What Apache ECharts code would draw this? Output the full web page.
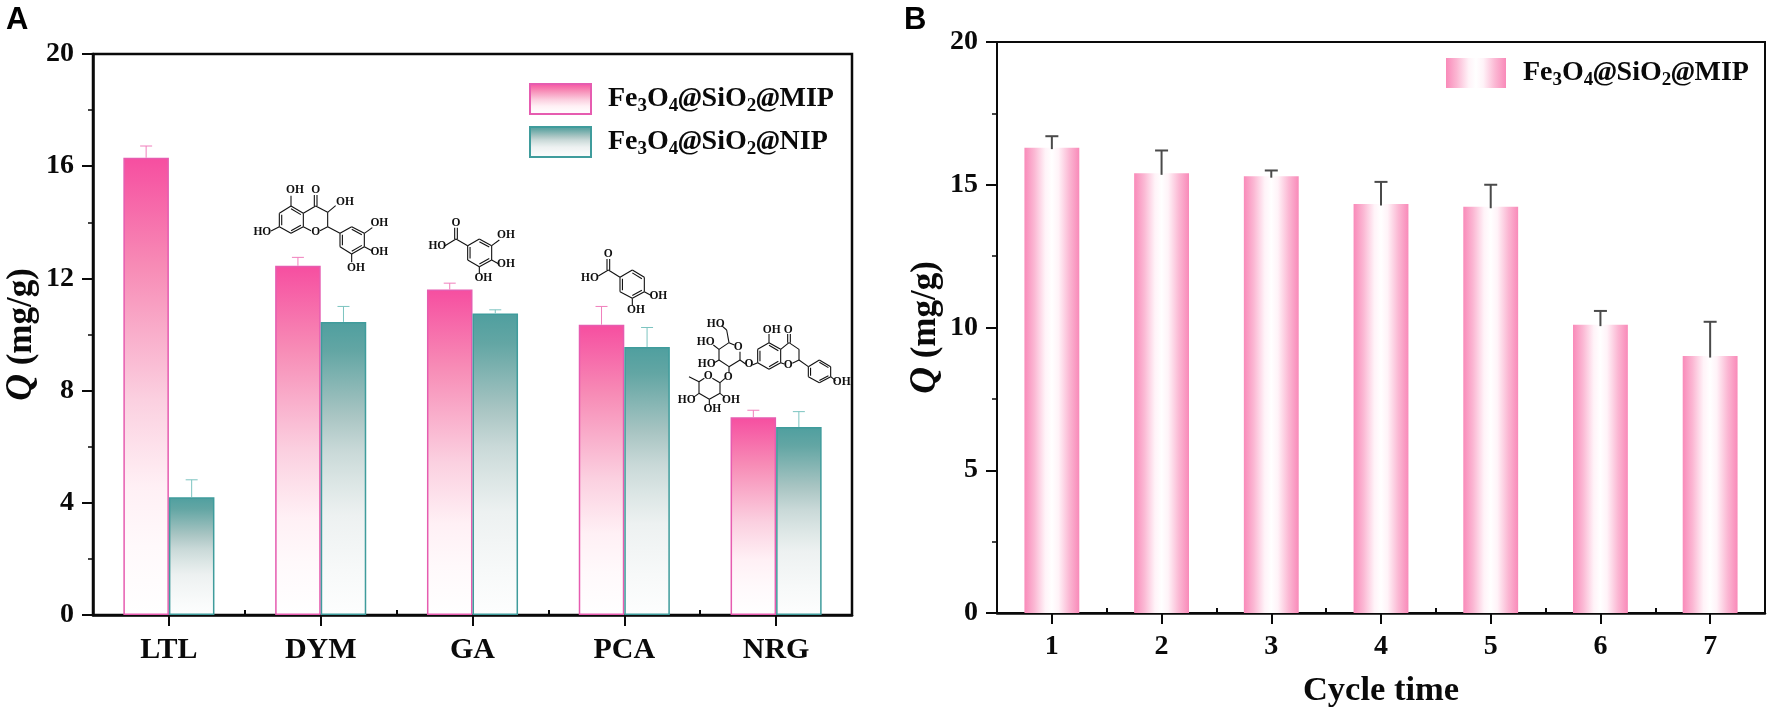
<!DOCTYPE html>
<html>
<head>
<meta charset="utf-8">
<style>html,body{margin:0;padding:0;background:#fff}#c{width:1772px;height:712px}</style>
<script src="https://cdn.jsdelivr.net/npm/echarts@6/dist/echarts.min.js"></script>
</head>
<body>
<div id="c"></div>
<script>
// ---------- data ----------
const adsorbates = ['LTL', 'DYM', 'GA', 'PCA', 'NRG'];
const mipValues = [16.3, 12.45, 11.6, 10.35, 7.05];
const mipErrTop = [16.72, 12.75, 11.83, 11.0, 7.3];
const nipValues = [4.2, 10.45, 10.75, 9.55, 6.7];
const nipErrTop = [4.82, 11.0, 10.88, 10.25, 7.25];
const cycles = ['1', '2', '3', '4', '5', '6', '7'];
const cycleValues = [16.3, 15.4, 15.3, 14.33, 14.23, 10.1, 9.0];
const cycleErrTop = [16.7, 16.2, 15.5, 15.1, 15.0, 10.58, 10.2];
const MIP = 'Fe3O4@SiO2@MIP';
const NIP = 'Fe3O4@SiO2@NIP';
const MIP_B = 'Fe3O4@SiO2@MIP (cycles)';
const legendText = {
  [MIP]: 'Fe{s|3}O{s|4}{a|@}SiO{s|2}{a|@}MIP',
  [NIP]: 'Fe{s|3}O{s|4}{a|@}SiO{s|2}{a|@}NIP',
  [MIP_B]: 'Fe{s|3}O{s|4}{a|@}SiO{s|2}{a|@}MIP'
};

// ---------- styles ----------
const SERIF = '"Liberation Serif","Times New Roman",serif';
const grad = (stops, horizontal) => new echarts.graphic.LinearGradient(0, 0, horizontal ? 1 : 0, horizontal ? 0 : 1,
  stops.map(s => ({offset: s[0], color: s[1]})));
const pinkV = () => grad([[0, '#f64ea0'], [0.24, '#f78cb6'], [0.53, '#fbd0e0'], [0.72, '#fff0f5'], [0.85, '#fff9fb'], [1, '#ffffff']]);
const tealV = () => grad([[0, '#4f9f9f'], [0.1, '#63a6a4'], [0.32, '#a9c5c3'], [0.44, '#c9d9d8'], [0.55, '#dce6e5'], [0.66, '#edf1f1'], [0.85, '#f7f9f9'], [1, '#fdfefe']]);
const pinkH = () => grad([[0, '#f98ab9'], [0.18, '#fbb7d3'], [0.38, '#fff3f8'], [0.5, '#ffffff'], [0.62, '#fff3f8'], [0.82, '#fbb7d3'], [1, '#f98ab9']], true);

const legendStyle = {
  fontFamily: SERIF, fontWeight: 'bold', fontSize: 28, color: '#0a0a0a', padding: [0, 0, 0, 12],
  rich: {
    s: {fontFamily: SERIF, fontWeight: 'bold', fontSize: 19, color: '#0a0a0a', padding: [14, 0, 0, 0]},
    a: {fontFamily: SERIF, fontWeight: 'bold', fontStyle: 'italic', fontSize: 28, color: '#0a0a0a'}
  }
};
const yName = {
  fontFamily: SERIF, fontWeight: 'bold', fontSize: 35, color: '#0a0a0a',
  rich: {q: {fontFamily: SERIF, fontWeight: 'bold', fontStyle: 'italic', fontSize: 37, color: '#0a0a0a'}}
};

function yAxis(grid, max, interval, lw, nameGap) {
  return {
    type: 'value', gridIndex: grid, min: 0, max, interval,
    name: '{q|Q} (mg/g)', nameLocation: 'middle', nameGap, nameTextStyle: yName,
    axisLine: {show: true, lineStyle: {color: '#0a0a0a', width: lw}},
    axisTick: {show: true, length: 11, lineStyle: {color: '#0a0a0a', width: 2}},
    minorTick: {show: true, splitNumber: 2, length: 5, lineStyle: {color: '#0a0a0a', width: 1.5}},
    splitLine: {show: false}, minorSplitLine: {show: false},
    axisLabel: {fontFamily: SERIF, fontWeight: 'bold', fontSize: 28, color: '#0a0a0a', margin: 19}
  };
}
function xLabelAxis(grid, cats, lw, fs, extra) {
  return Object.assign({
    type: 'category', gridIndex: grid, data: cats,
    axisLine: {show: true, onZero: false, lineStyle: {color: '#0a0a0a', width: lw}},
    axisTick: {show: true, alignWithLabel: true, length: 11, lineStyle: {color: '#0a0a0a', width: 2}},
    splitLine: {show: false},
    axisLabel: {fontFamily: SERIF, fontWeight: 'bold', fontSize: fs, color: '#0a0a0a', margin: 20, interval: 0}
  }, extra || {});
}
function xBoundAxis(grid, cats) {
  return {
    type: 'category', gridIndex: grid, data: cats,
    axisLine: {show: false}, axisLabel: {show: false}, splitLine: {show: false},
    axisTick: {show: true, length: 5, lineStyle: {color: '#0a0a0a', width: 2}}
  };
}
function errSeries(xi, yi, vals, tops, color, shift, capHalf, stemW, overshoot) {
  return {
    type: 'custom', xAxisIndex: xi, yAxisIndex: yi, z: 5, silent: true, clip: false,
    data: vals.map((v, i) => [i, v, tops[i]]),
    encode: {x: 0, y: [1, 2]},
    renderItem(params, api) {
      const band = api.size([1, 0])[0];
      const base = api.coord([api.value(0), api.value(1)]);
      const top = api.coord([api.value(0), api.value(2)]);
      const x = base[0] + band * shift;
      const style = {stroke: color, lineWidth: stemW, fill: null};
      return {type: 'group', children: [
        {type: 'line', shape: {x1: x, y1: base[1] + overshoot, x2: x, y2: top[1]}, style},
        {type: 'line', shape: {x1: x - capHalf, y1: top[1], x2: x + capHalf, y2: top[1]}, style}
      ]};
    }
  };
}

// ---------- molecule drawings (page pixels, decoration only) ----------
const molElements = [];
function bond(o, a, b, w) {
  molElements.push({type: 'line', silent: true, z: 20,
    shape: {x1: o[0] + a[0] / 3, y1: o[1] + a[1] / 3, x2: o[0] + b[0] / 3, y2: o[1] + b[1] / 3},
    style: {stroke: '#111', lineWidth: w || 1.1}});
}
function ring(o, v, doubles) {
  const cx = v.reduce((s, p) => s + p[0], 0) / v.length, cy = v.reduce((s, p) => s + p[1], 0) / v.length;
  const inner = p => [p[0] + (cx - p[0]) * 0.2, p[1] + (cy - p[1]) * 0.2];
  v.forEach((p, i) => {
    const q = v[(i + 1) % v.length];
    bond(o, p, q);
    if (doubles && doubles.includes(i)) bond(o, inner(p), inner(q));
  });
}
function atom(o, t, x, y) {
  molElements.push({type: 'text', silent: true, z: 21, x: o[0] + x / 3, y: o[1] + y / 3,
    style: {text: t, fontFamily: SERIF, fontWeight: 'bold', fontSize: 11.5, fill: '#111', align: 'center', verticalAlign: 'middle'}});
}
function dbl(o, a, b) {
  bond(o, [a[0] - 4, a[1]], [b[0] - 4, b[1]]);
  bond(o, [a[0] + 4, a[1]], [b[0] + 4, b[1]]);
}
// dihydromyricetin
(function () {
  const o = [245, 175];
  ring(o, [[138, 93], [175, 115], [175, 155], [138, 175], [103, 155], [103, 115]], [0, 2, 4]);
  [[[175, 115], [212, 93]], [[212, 93], [248, 112]], [[248, 112], [248, 155]], [[248, 155], [225, 167]], [[198, 167], [175, 155]],
   [[138, 93], [138, 62]], [[248, 112], [272, 92]], [[103, 155], [78, 168]], [[248, 155], [285, 175]],
   [[358, 175], [382, 158]], [[358, 215], [382, 228]], [[320, 237], [320, 262]]].forEach(b => bond(o, b[0], b[1]));
  dbl(o, [212, 93], [212, 60]);
  ring(o, [[285, 175], [320, 155], [358, 175], [358, 215], [320, 237], [285, 215]], [1, 3, 5]);
  [['OH', 150, 45], ['O', 212, 45], ['OH', 300, 80], ['HO', 52, 171], ['O', 212, 170], ['OH', 403, 143], ['OH', 403, 232], ['OH', 333, 280]]
    .forEach(a => atom(o, a[0], a[1], a[2]));
})();
// gallic acid
(function () {
  const o = [420, 225];
  ring(o, [[178, 42], [215, 62], [215, 105], [178, 125], [143, 105], [143, 62]], [0, 2, 4]);
  [[[143, 62], [108, 42]], [[108, 42], [75, 62]], [[215, 62], [238, 45]], [[215, 105], [238, 118]], [[178, 125], [178, 145]]].forEach(b => bond(o, b[0], b[1]));
  dbl(o, [108, 42], [108, 8]);
  [['O', 108, -7], ['HO', 52, 62], ['OH', 258, 30], ['OH', 258, 117], ['OH', 190, 160]].forEach(a => atom(o, a[0], a[1], a[2]));
})();
// protocatechuic acid
(function () {
  const o = [575, 245];
  ring(o, [[172, 75], [208, 97], [208, 140], [172, 160], [135, 140], [135, 97]], [0, 2, 4]);
  [[[135, 97], [100, 75]], [[100, 75], [70, 93]], [[208, 140], [230, 152]], [[172, 160], [172, 182]]].forEach(b => bond(o, b[0], b[1]));
  dbl(o, [100, 75], [100, 42]);
  [['O', 100, 28], ['HO', 45, 100], ['OH', 250, 152], ['OH', 183, 195]].forEach(a => atom(o, a[0], a[1], a[2]));
})();
// naringin
(function () {
  const o = [675, 310];
  ring(o, [[282, 98], [317, 118], [317, 158], [282, 178], [248, 158], [248, 118]], [0, 2, 4]);
  ring(o, [[400, 170], [433, 150], [467, 170], [467, 200], [433, 218], [400, 200]], [1, 3, 5]);
  [[[317, 118], [342, 98]], [[342, 98], [372, 118]], [[372, 118], [372, 150]], [[372, 150], [352, 160]], [[328, 162], [317, 158]],
   [[282, 98], [282, 72]], [[372, 150], [400, 170]], [[467, 200], [482, 212]],
   [[248, 158], [232, 165]], [[212, 162], [195, 150]],
   [[195, 150], [195, 125]], [[178, 105], [162, 98]], [[162, 98], [132, 118]], [[132, 118], [132, 150]], [[132, 150], [162, 170]], [[162, 170], [195, 150]],
   [[162, 98], [155, 60]], [[155, 60], [140, 47]], [[132, 118], [115, 105]], [[132, 150], [115, 160]], [[162, 170], [162, 190]],
   [[150, 205], [135, 218]], [[135, 218], [112, 205]], [[88, 205], [72, 215]], [[72, 215], [72, 250]], [[72, 250], [103, 268]], [[103, 268], [135, 250]], [[135, 250], [135, 218]],
   [[72, 215], [42, 200]], [[72, 250], [55, 262]], [[135, 250], [150, 262]], [[103, 268], [103, 285]]].forEach(b => bond(o, b[0], b[1]));
  dbl(o, [342, 98], [342, 72]);
  [['OH', 290, 60], ['O', 340, 60], ['O', 340, 165], ['OH', 500, 215], ['O', 222, 162], ['HO', 122, 43], ['O', 190, 112], ['HO', 92, 95], ['HO', 95, 162],
   ['O', 160, 200], ['O', 100, 198], ['HO', 35, 270], ['OH', 168, 270], ['OH', 112, 298]].forEach(a => atom(o, a[0], a[1], a[2]));
})();

// ---------- chart ----------
const chart = echarts.init(document.getElementById('c'), null, {renderer: 'canvas'});
chart.setOption({
  animation: false,
  backgroundColor: '#fff',
  grid: [
    {left: 93, top: 54, width: 759, height: 561, outerBoundsMode: 'none', show: true, borderColor: '#0a0a0a', borderWidth: 2.5, backgroundColor: 'transparent'},
    {left: 997, top: 42, width: 768, height: 571, outerBoundsMode: 'none', show: true, borderColor: '#0a0a0a', borderWidth: 2, backgroundColor: 'transparent'}
  ],
  xAxis: [
    xLabelAxis(0, adsorbates, 2.5, 30),
    xBoundAxis(0, adsorbates),
    xLabelAxis(1, cycles, 2.5, 28, {name: 'Cycle time', nameLocation: 'middle', nameGap: 61,
      nameTextStyle: {fontFamily: SERIF, fontWeight: 'bold', fontSize: 34.5, color: '#0a0a0a'}}),
    xBoundAxis(1, cycles)
  ],
  yAxis: [yAxis(0, 20, 4, 2.5, 53), yAxis(1, 20, 5, 2, 53)],
  legend: [
    {left: 529, top: 83, padding: 0, orient: 'vertical', icon: 'rect', itemWidth: 61, itemHeight: 30, itemGap: 10.5, selectedMode: false,
     data: [MIP, NIP], textStyle: legendStyle, formatter: n => legendText[n]},
    {left: 1446, top: 58, padding: 0, orient: 'vertical', icon: 'rect', itemWidth: 60, itemHeight: 30, itemGap: 13, selectedMode: false,
     data: [MIP_B], textStyle: legendStyle, formatter: n => legendText[n]}
  ],
  series: [
    {name: MIP, type: 'bar', xAxisIndex: 0, yAxisIndex: 0, data: mipValues, barWidth: '30%', barGap: '0%',
     itemStyle: {color: pinkV(), borderColor: '#e65cb0', borderWidth: 1.5}},
    {name: NIP, type: 'bar', xAxisIndex: 0, yAxisIndex: 0, data: nipValues, barWidth: '30%', barGap: '0%',
     itemStyle: {color: tealV(), borderColor: '#3f9c9c', borderWidth: 1.5}},
    errSeries(0, 0, mipValues, mipErrTop, '#f07fbc', -0.15, 6, 1, 0),
    errSeries(0, 0, nipValues, nipErrTop, '#7cc4c0', 0.15, 6, 1, 0),
    {name: MIP_B, type: 'bar', xAxisIndex: 2, yAxisIndex: 1, data: cycleValues, barWidth: '50%',
     itemStyle: {color: pinkH()}},
    errSeries(2, 1, cycleValues, cycleErrTop, '#4a4a4a', 0, 6.5, 2, 1.5)
  ],
  graphic: {elements: [
    {type: 'text', x: 6, y: 5, style: {text: 'A', fontFamily: '"Liberation Sans",Arial,sans-serif', fontWeight: 'bold', fontSize: 31, fill: '#000'}},
    {type: 'text', x: 904, y: 5, style: {text: 'B', fontFamily: '"Liberation Sans",Arial,sans-serif', fontWeight: 'bold', fontSize: 31, fill: '#000'}}
  ].concat(molElements)}
});
</script>
</body>
</html>
